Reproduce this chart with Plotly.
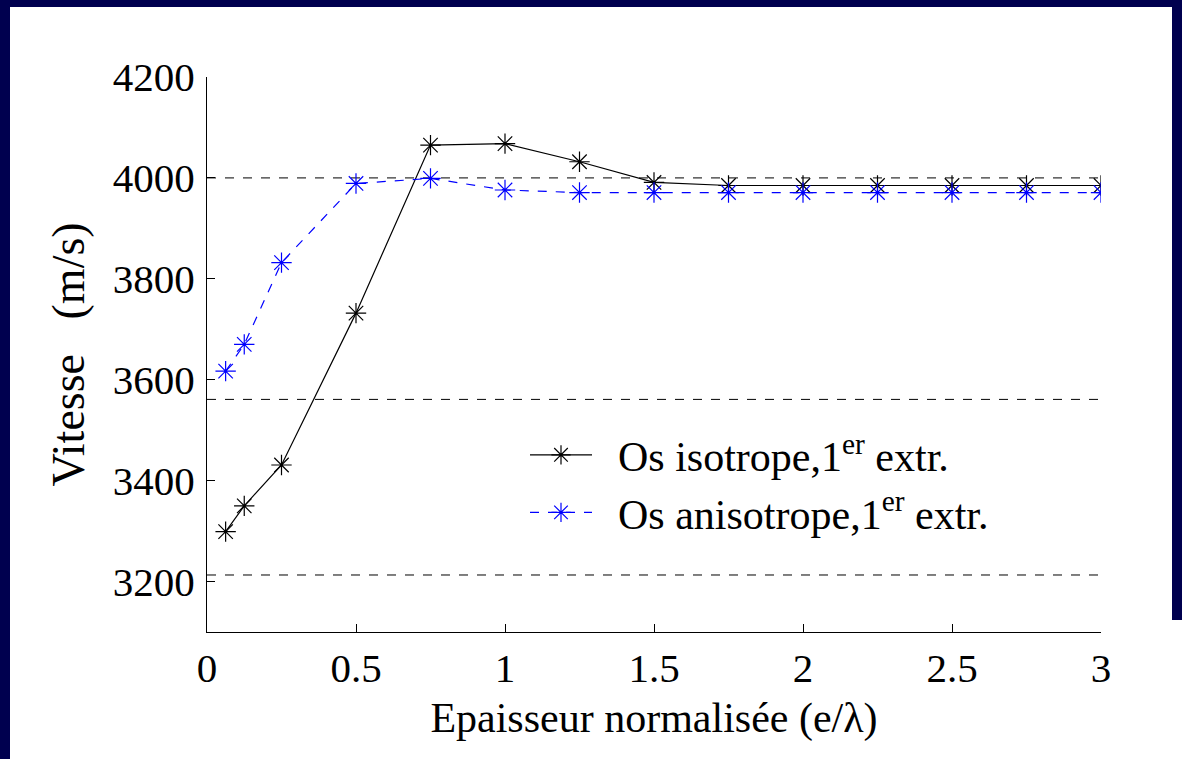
import plotly.graph_objects as go

# ---- data ----
x_vals = [0.0625, 0.125, 0.25, 0.5, 0.75, 1.0, 1.25, 1.5, 1.75, 2.0, 2.25, 2.5, 2.75, 3.0]
v_iso = [3299, 3350, 3431, 3732, 4065, 4068, 4032, 3991, 3985, 3985, 3985, 3985, 3985, 3985]
v_aniso = [3617, 3670, 3832, 3989, 3999, 3976, 3971, 3971, 3971, 3971, 3971, 3971, 3971, 3971]
ref_levels = [4000, 3561, 3213]
x_ticks = [0, 0.5, 1, 1.5, 2, 2.5, 3]
x_ticklabels = ["0", "0.5", "1", "1.5", "2", "2.5", "3"]
y_ticks = [3200, 3400, 3600, 3800, 4000, 4200]
name_iso = "\u00a0\u00a0Os isotrope,1<sup>er</sup> extr."
name_aniso = "\u00a0\u00a0Os anisotrope,1<sup>er</sup> extr."
x_title = "Epaisseur normalisée (e/λ)"
y_title = "Vitesse \u00a0 (m/s)"

W, H = 1182, 759
L, R, T, B = 207, 81, 77, 127
pw, ph = W - L - R, H - T - B

def px(x):
    return (x - L) / pw

def py(y):
    return (H - B - y) / ph

FONT = "Liberation Serif"
NAVY = "#00004f"

fig = go.Figure()

for lv in ref_levels:
    fig.add_trace(go.Scatter(
        x=[x_ticks[0], x_ticks[-1]], y=[lv, lv], mode="lines",
        line=dict(color="black", width=1, dash="dash"),
        showlegend=False, hoverinfo="skip"))

fig.add_trace(go.Scatter(
    x=x_vals, y=v_iso, mode="lines+markers", name=name_iso,
    line=dict(color="black", width=1.2),
    marker=dict(symbol="asterisk-open", size=17, color="black",
                line=dict(color="black", width=1.2))))

fig.add_trace(go.Scatter(
    x=x_vals, y=v_aniso, mode="lines+markers", name=name_aniso,
    line=dict(color="#0000ff", width=1.2, dash="dash"),
    marker=dict(symbol="asterisk-open", size=17, color="#0000ff",
                line=dict(color="#0000ff", width=1.2))))

# slide frame strips (left, top, right)
for (a, b, c, d) in [(-5, 10, -5, H + 5), (-5, W + 5, -5, 7), (1172, W + 5, -5, 620)]:
    fig.add_shape(type="rect", xref="paper", yref="paper",
                  x0=px(a), x1=px(b), y0=py(d), y1=py(c),
                  fillcolor=NAVY, line=dict(width=0), layer="below")

fig.update_layout(
    width=W, height=H,
    margin=dict(l=L, r=R, t=T, b=B),
    paper_bgcolor="white", plot_bgcolor="white",
    font=dict(family=FONT, size=40, color="black"),
    showlegend=True,
    legend=dict(x=px(525), y=py(421), xanchor="left", yanchor="top",
                bgcolor="rgba(0,0,0,0)", font=dict(family=FONT, size=42),
                itemwidth=62, tracegroupgap=0),
    xaxis=dict(range=[0, 3], tickvals=x_ticks, ticktext=x_ticklabels,
               ticks="inside", ticklen=8, tickcolor="black",
               showline=True, linecolor="black", linewidth=1,
               showgrid=False, zeroline=False, mirror=False,
               tickfont=dict(family=FONT, size=41), ticklabelstandoff=0,
               title=dict(text=x_title, font=dict(family=FONT, size=42), standoff=12)),
    yaxis=dict(range=[3100, 4200], tickvals=y_ticks,
               ticks="inside", ticklen=8, tickcolor="black",
               showline=True, linecolor="black", linewidth=1,
               showgrid=False, zeroline=False, mirror=False,
               tickfont=dict(family=FONT, size=41), ticklabelstandoff=3,
               title=dict(text=y_title, font=dict(family=FONT, size=46), standoff=13)),
)

fig.write_html("out.html", post_script="document.body.style.margin='0';",
               config={"displayModeBar": False})
